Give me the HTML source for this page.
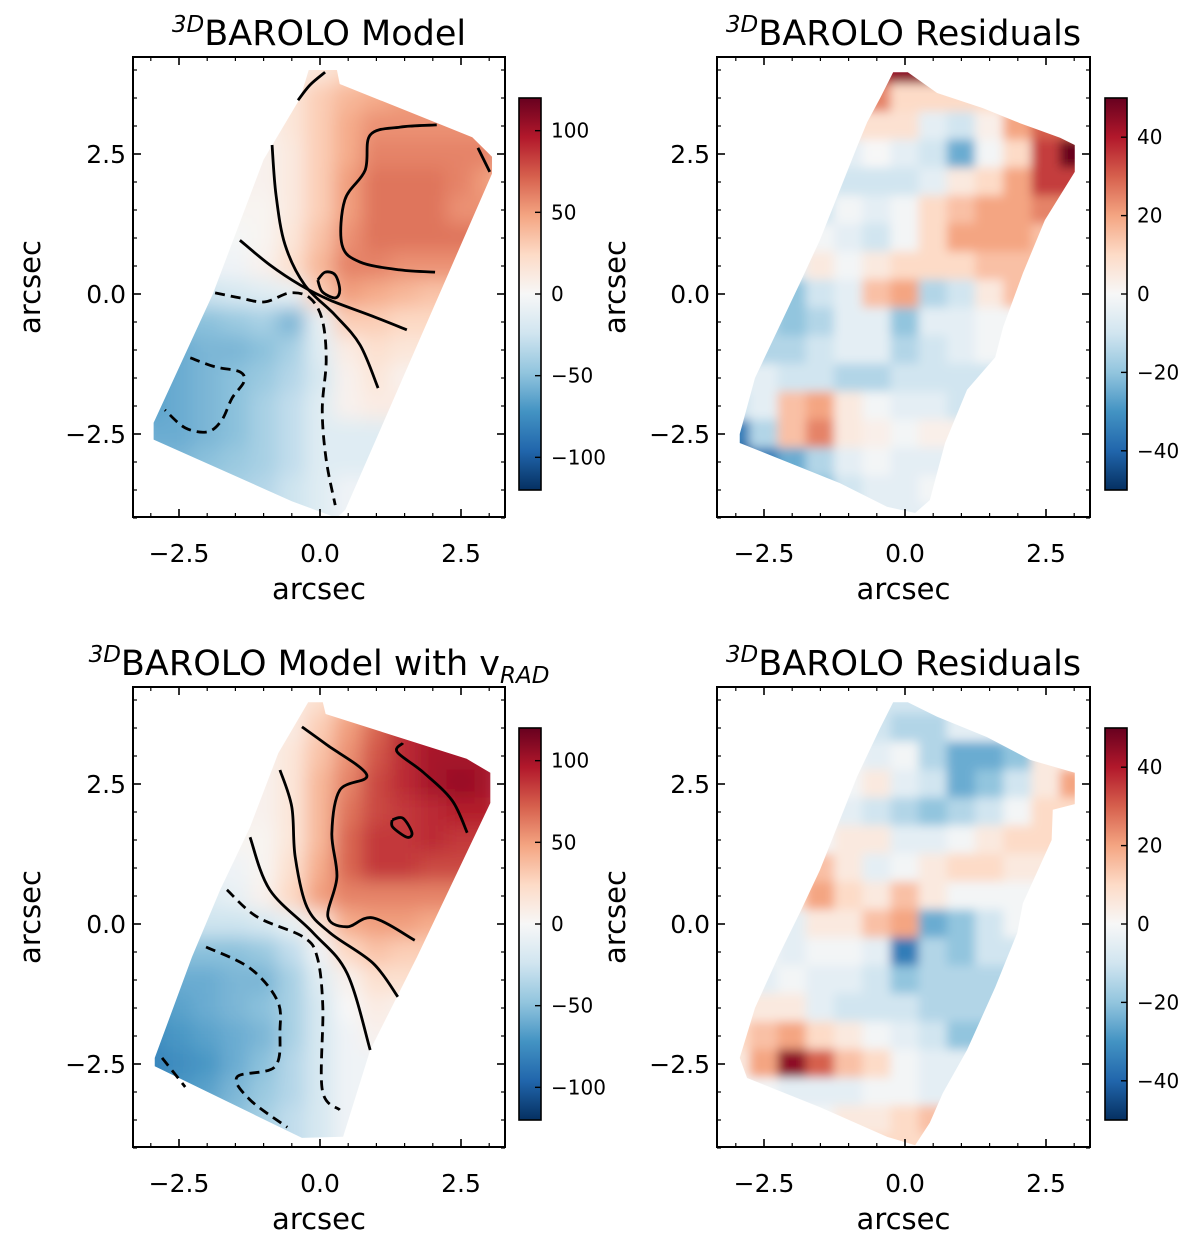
<!DOCTYPE html>
<html><head><meta charset="utf-8"><style>
html,body{margin:0;padding:0;background:#fff;}
svg{display:block;font-family:"DejaVu Sans","Liberation Sans",sans-serif;}
</style></head><body>
<svg id="fig" width="1200" height="1248" viewBox="0 0 1200 1248" xmlns="http://www.w3.org/2000/svg"></svg>
<script>
// ===== data =====
const xCenters = [-3,-2.5,-2,-1.5,-1,-0.5,0,0.5,1,1.5,2,2.5,3];
const yCenters = [4,3.5,3,2.5,2,1.5,1,0.5,0,-0.5,-1,-1.5,-2,-2.5,-3,-3.5,-4];
const model1 = [
[0,0,0,0,0,5,15,25,0,0,0,0,0],
[0,0,0,0,0,15,30,40,45,50,0,0,0],
[0,0,0,0,5,15,30,45,55,55,55,55,0],
[0,0,0,0,5,12,30,45,60,60,60,60,60],
[0,0,0,0,5,12,30,50,65,65,65,60,50],
[0,0,0,0,3,12,30,50,65,65,65,55,0],
[0,0,0,-2,3,15,35,55,65,65,65,0,0],
[0,0,-5,-5,5,20,40,60,60,55,55,0,0],
[0,-20,-25,-20,-15,-10,30,50,45,40,35,0,0],
[0,-50,-50,-45,-40,-55,-10,30,30,25,0,0,0],
[-55,-60,-55,-55,-50,-40,-15,10,20,15,0,0,0],
[-65,-60,-55,-50,-45,-35,-20,5,15,5,0,0,0],
[-65,-60,-55,-50,-40,-30,-15,5,10,0,0,0,0],
[-60,-60,-55,-50,-40,-30,-15,0,0,0,0,0,0],
[-55,-55,-50,-45,-40,-30,-15,0,0,0,0,0,0],
[0,0,-40,-40,-35,-25,-15,-5,0,0,0,0,0],
[0,0,0,0,-30,-25,-15,-5,0,0,0,0,0]];
const resid1 = [
[0,0,0,0,0,40,45,0,0,0,0,0,0],
[0,0,0,0,0,25,10,10,10,0,0,0,0],
[0,0,0,0,0,0,8,-5,-10,3,20,30,30],
[0,0,0,0,-5,0,-5,-10,-25,-1,10,35,50],
[0,0,0,-5,-10,-10,-10,-5,5,10,20,35,0],
[0,0,0,-10,-1,-5,-1,10,15,20,20,25,0],
[0,0,-5,-1,-5,-10,-1,10,20,20,20,15,0],
[0,0,-5,5,-1,5,10,10,10,15,15,0,0],
[0,0,-20,-10,-5,15,20,-15,-10,5,15,0,0],
[0,-15,-20,-15,-5,-5,-20,-5,-5,-1,0,0,0],
[0,-15,-15,-10,-5,-5,-15,-10,-5,-1,0,0,0],
[0,-5,-10,-10,-15,-15,-10,-10,-10,0,0,0,0],
[-10,-5,15,20,5,-1,-5,-5,-10,0,0,0,0],
[-35,-15,15,25,5,3,-1,3,0,0,0,0,0],
[-45,-35,-25,-15,-5,-1,-5,-5,0,0,0,0,0],
[0,0,0,-20,-10,-5,-5,-1,0,0,0,0,0],
[0,0,0,0,0,-5,-5,0,0,0,0,0,0]];
const model3 = [
[0,0,0,0,0,10,20,35,0,0,0,0,0],
[0,0,0,0,0,10,30,50,70,90,95,0,0],
[0,0,0,0,5,15,35,55,75,90,100,100,0],
[0,0,0,0,5,15,40,60,80,90,100,105,100],
[0,0,0,0,5,15,40,65,80,85,90,95,95],
[0,0,0,0,3,15,40,70,85,85,90,85,0],
[0,0,0,-5,3,20,45,70,85,85,80,0,0],
[0,0,-15,-10,5,25,50,60,60,60,60,0,0],
[0,-25,-25,-25,-20,-10,15,45,50,50,45,0,0],
[0,-50,-50,-50,-45,-30,-5,25,35,30,0,0,0],
[-60,-60,-60,-55,-55,-40,-15,5,20,20,0,0,0],
[-70,-65,-60,-55,-50,-40,-20,0,10,5,0,0,0],
[-75,-70,-65,-60,-55,-40,-20,-5,5,0,0,0,0],
[-80,-75,-70,-60,-50,-35,-20,-5,0,0,0,0,0],
[-75,-70,-65,-55,-45,-35,-20,-5,0,0,0,0,0],
[0,0,-55,-50,-40,-30,-20,-5,0,0,0,0,0],
[0,0,0,0,-40,-30,-20,-5,0,0,0,0,0]];
const resid2 = [
[0,0,0,0,0,-10,-10,0,0,0,0,0,0],
[0,0,0,0,0,-10,-15,-15,-5,0,0,0,0],
[0,0,0,0,-1,-5,-1,-15,-25,-25,-20,5,0],
[0,0,0,0,-1,5,-5,-10,-25,-20,-10,5,20],
[0,0,0,-1,-5,-10,-15,-20,-15,-10,-1,10,0],
[0,0,0,-1,5,5,-5,-5,-1,5,10,10,0],
[0,0,10,15,5,-5,-1,5,10,10,5,5,0],
[0,0,10,20,10,5,15,5,-1,-1,-1,0,0],
[0,0,-5,5,5,15,20,-25,-20,-10,-1,0,0],
[0,-1,-5,-1,-1,-5,-35,-15,-20,-10,0,0,0],
[0,-5,-1,-5,-5,-10,-20,-15,-15,-15,0,0,0],
[5,5,5,-5,-10,-10,-10,-15,-15,0,0,0,0],
[10,15,20,10,5,-1,-5,-10,-20,0,0,0,0],
[5,20,45,30,15,10,-1,-5,0,0,0,0,0],
[-1,-1,-5,-5,-5,-1,-1,-5,0,0,0,0,0],
[0,0,0,-1,5,5,10,15,0,0,0,0,0],
[0,0,0,0,0,10,10,0,0,0,0,0,0]];
const xTickLabels = ["\u22122.5","0.0","2.5"];
const xTickValues = [-2.5,0,2.5];
const yTickValues = [-2.5,0,2.5];
const cbModelTicks = [-100,-50,0,50,100];
const cbResidTicks = [-40,-20,0,20,40];
// contour polylines (data coords)
const p1Solid = [
 [[-0.39,3.46],[-0.18,3.73],[0.09,3.96]],
 [[-0.85,2.66],[-0.78,1.77],[-0.62,0.88],[-0.27,0.16],[0.27,-0.38],[0.71,-0.91],[1.03,-1.68]],
 [[-1.42,0.96],[-0.89,0.52],[-0.35,0.16],[0.18,-0.11],[0.89,-0.38],[1.54,-0.64]],
 [[2.04,0.39],[1.42,0.43],[0.71,0.57],[0.39,0.88],[0.44,1.68],[0.80,2.21],[0.89,2.84],[1.42,2.98],[2.07,3.02]],
 [[2.80,2.61],[3.01,2.18]],
 [[-0.04,0.25],[0.09,0.39],[0.27,0.34],[0.35,0.07],[0.27,-0.07],[0.04,0.04],[-0.04,0.25]]];
const p1Dashed = [
 [[-1.86,0.02],[-1.42,-0.07],[-0.98,-0.14],[-0.53,0.02],[-0.18,-0.07],[0.04,-0.46],[0.11,-1.18],[0.04,-2.07],[0.11,-2.96],[0.27,-3.77]],
 [[-2.3,-1.14],[-1.86,-1.3],[-1.42,-1.39],[-1.35,-1.57],[-1.56,-1.86],[-1.74,-2.25],[-1.99,-2.46],[-2.39,-2.39],[-2.75,-2.07]]];
const p3Solid = [
 [[-0.32,3.52],[0.12,3.20],[0.83,2.66],[0.35,2.39],[0.21,1.62],[0.30,0.84],[0.14,0.13],[0.48,-0.05],[0.94,0.11],[1.68,-0.29]],
 [[-0.71,2.75],[-0.50,2.09],[-0.44,1.20],[-0.23,0.30],[0.18,-0.16],[0.94,-0.70],[1.38,-1.30]],
 [[-1.24,1.55],[-0.89,0.61],[-0.12,-0.16],[0.48,-0.88],[0.89,-2.25]],
 [[1.47,3.23],[1.37,3.07],[1.83,2.71],[2.34,2.21],[2.61,1.63]],
 [[1.28,1.86],[1.47,1.89],[1.63,1.63],[1.54,1.55],[1.29,1.73],[1.28,1.86]]];
const p3Dashed = [
 [[-1.65,0.61],[-1.12,0.13],[-0.30,-0.23],[-0.05,-0.59],[0.05,-1.48],[0.04,-2.96],[0.35,-3.32]],
 [[-2.02,-0.41],[-1.24,-0.79],[-0.76,-1.36],[-0.71,-1.89],[-0.80,-2.55],[-1.47,-2.73],[-1.24,-3.14],[-0.58,-3.63]],
 [[-2.80,-2.39],[-2.39,-2.91]]];
// masks (data coords)
const mask1 = [[-0.2,4.0],[0.3,4.0],[0.35,3.75],[2.7,2.8],[3.05,2.45],[3.05,2.15],[0.45,-3.85],[0.3,-4.0],[-0.5,-3.7],[-2.95,-2.6],[-2.95,-2.3],[-1.9,0.0],[-1.0,2.4],[-0.35,3.5]];
const mask2 = [[-0.21,3.96],[0.05,3.96],[0.57,3.59],[1.38,3.32],[2.04,3.05],[2.75,2.79],[3.01,2.66],[3.01,2.18],[2.48,1.32],[2.09,0.37],[1.74,-0.59],[1.6,-1.13],[1.1,-1.71],[0.71,-2.66],[0.44,-3.68],[0.18,-3.91],[-0.32,-3.8],[-1.15,-3.38],[-2.93,-2.66],[-2.93,-2.5],[-2.66,-1.5],[-1.86,0.2],[-1.51,0.96],[-0.85,2.63],[-0.67,3.07],[-0.44,3.5]];
const mask3 = [[-0.21,3.96],[0.05,3.96],[0.1,3.75],[2.6,2.95],[3.02,2.7],[3.02,2.16],[1.72,-0.59],[0.89,-2.25],[0.41,-3.8],[-0.32,-3.82],[-2.93,-2.54],[-2.93,-2.39],[-2.27,-0.59],[-1.77,0.61],[-1.24,1.73],[-0.74,3.05]];
const mask4 = [[-0.21,3.96],[0.05,3.96],[0.57,3.7],[1.45,3.34],[2.22,2.93],[3.01,2.7],[3.01,2.14],[2.62,2.04],[2.6,1.5],[2.09,0.37],[1.99,-0.16],[1.6,-1.13],[1.1,-2.25],[0.67,-3.02],[0.44,-3.55],[0.18,-3.95],[-0.32,-3.8],[-1.51,-3.27],[-2.8,-2.75],[-2.93,-2.39],[-2.66,-1.5],[-2.25,-0.59],[-1.86,0.21],[-1.51,0.96],[-0.85,2.63],[-0.44,3.5]];

// ===== helpers =====
const NS="http://www.w3.org/2000/svg";
const svg=document.getElementById('fig');
function mk(tag,attrs,parent){const e=document.createElementNS(NS,tag);for(const k in attrs)e.setAttribute(k,attrs[k]);(parent||svg).appendChild(e);return e;}
const stops=["#053061","#2166ac","#4393c3","#92c5de","#d1e5f0","#f7f7f7","#fddbc7","#f4a582","#d6604d","#b2182b","#67001f"];
function hex(h){return [parseInt(h.substr(1,2),16),parseInt(h.substr(3,2),16),parseInt(h.substr(5,2),16)];}
function cmap(t){t=Math.max(0,Math.min(1,t));const f=t*10;const i=Math.min(9,Math.floor(f));const r=f-i;const a=hex(stops[i]),b=hex(stops[i+1]);
 return 'rgb('+a.map((v,k)=>Math.round(v+(b[k]-v)*r)).join(',')+')';}
// render-only padding: extend edge values outward so blur doesn't fade mask edges
function padGrid(g){
 const out=g.map(r=>r.slice());
 out.forEach(r=>{let f=r.findIndex(v=>v!==0);if(f<0)return;let l=r.length-1;while(r[l]===0)l--;
  for(let i=0;i<f;i++)r[i]=r[f];for(let i=l+1;i<r.length;i++)r[i]=r[l];});
 return out;}
function smoothPath(pts){
 let d='M'+pts[0][0]+','+pts[0][1];
 for(let i=0;i<pts.length-1;i++){
  const p0=pts[Math.max(0,i-1)],p1=pts[i],p2=pts[i+1],p3=pts[Math.min(pts.length-1,i+2)];
  const c1=[p1[0]+(p2[0]-p0[0])/6,p1[1]+(p2[1]-p0[1])/6],c2=[p2[0]-(p3[0]-p1[0])/6,p2[1]-(p3[1]-p1[1])/6];
  d+=' C'+c1[0]+','+c1[1]+' '+c2[0]+','+c2[1]+' '+p2[0]+','+p2[1];
 }
 return d;}
const defs=mk('defs',{});
const blurF=mk('filter',{id:'blur',x:'-10%',y:'-10%',width:'120%',height:'120%'},defs);
mk('feGaussianBlur',{stdDeviation:'9'},blurF);
const blurR=mk('filter',{id:'blurR',x:'-10%',y:'-10%',width:'120%',height:'120%'},defs);
mk('feGaussianBlur',{stdDeviation:'5'},blurR);

const panels=[
 {id:'model',L:133,T:57,R:505,B:517,x0:320,y0:294,grid:model1,vmax:120,mask:mask1,cbL:519,cbT:98,cbB:490,ticks:cbModelTicks,solid:p1Solid,dashed:p1Dashed,filt:'blur',ylabX:30,title:'BAROLO Model',sub:null},
 {id:'residuals',L:717,T:57,R:1090,B:517,x0:905,y0:294,grid:resid1,vmax:50,mask:mask2,cbL:1105,cbT:98,cbB:490,ticks:cbResidTicks,solid:[],dashed:[],filt:'blurR',ylabX:615,title:'BAROLO Residuals',sub:null},
 {id:'model-vrad',L:133,T:687,R:505,B:1147,x0:320,y0:924,grid:model3,vmax:120,mask:mask3,cbL:519,cbT:728,cbB:1120,ticks:cbModelTicks,solid:p3Solid,dashed:p3Dashed,filt:'blur',ylabX:30,title:'BAROLO Model with v',sub:'RAD'},
 {id:'residuals-vrad',L:717,T:687,R:1090,B:1147,x0:905,y0:924,grid:resid2,vmax:50,mask:mask4,cbL:1105,cbT:728,cbB:1120,ticks:cbResidTicks,solid:[],dashed:[],filt:'blurR',ylabX:615,title:'BAROLO Residuals',sub:null}
];
const SX=56.4, SY=56;

panels.forEach((p,pi)=>{
 const X=v=>p.x0+v*SX, Y=v=>p.y0-v*SY;
 const g=mk('g',{});
 
 
 const cp=mk('clipPath',{id:'clip'+pi},defs);
 mk('polygon',{points:p.mask.map(q=>X(q[0])+','+Y(q[1])).join(' ')},cp);
 const hm=mk('g',{'clip-path':'url(#clip'+pi+')'},g);
 
 
 const inner=mk('g',{filter:'url(#'+p.filt+')'},hm);
 const grid=padGrid(p.grid);
 grid.forEach((row,ri)=>{row.forEach((v,ci)=>{
  const cx=xCenters[ci], cy=yCenters[ri];
  const r=mk('rect',{x:X(cx-0.25)-0.5,y:Y(cy+0.25)-0.5,width:0.5*SX+1,height:0.5*SY+1,fill:cmap((v+p.vmax)/(2*p.vmax))},inner);
  
  
 });});
 p.solid.forEach(line=>{
  const e=mk('path',{d:smoothPath(line.map(q=>[X(q[0]),Y(q[1])])),fill:'none',stroke:'#000','stroke-width':2.8,'stroke-linejoin':'round'},g);
  
  
 });
 p.dashed.forEach(line=>{
  const e=mk('path',{d:smoothPath(line.map(q=>[X(q[0]),Y(q[1])])),fill:'none',stroke:'#000','stroke-width':2.8,'stroke-dasharray':'10,6'},g);
  
  
 });
 const fr=mk('rect',{x:p.L,y:p.T,width:p.R-p.L,height:p.B-p.T,fill:'none',stroke:'#000','stroke-width':2},g);
 
 
 xTickValues.forEach((v,i)=>{
  mk('line',{x1:X(v),x2:X(v),y1:p.B,y2:p.B-8,stroke:'#000','stroke-width':1.6},g);
  mk('line',{x1:X(v),x2:X(v),y1:p.T,y2:p.T+8,stroke:'#000','stroke-width':1.6},g);
  const t=mk('text',{x:X(v),y:p.B+45,'text-anchor':'middle','font-size':25},g);t.textContent=xTickLabels[i];
  
  
 });
 for(let v=-3;v<=3.01;v+=0.5){
  if(Math.abs(v%2.5)<0.01) continue;
  mk('line',{x1:X(v),x2:X(v),y1:p.B,y2:p.B-4,stroke:'#000','stroke-width':1.2},g);
  mk('line',{x1:X(v),x2:X(v),y1:p.T,y2:p.T+4,stroke:'#000','stroke-width':1.2},g);
 }
 yTickValues.forEach((v,i)=>{
  mk('line',{x1:p.L,x2:p.L+8,y1:Y(v),y2:Y(v),stroke:'#000','stroke-width':1.6},g);
  mk('line',{x1:p.R,x2:p.R-8,y1:Y(v),y2:Y(v),stroke:'#000','stroke-width':1.6},g);
  const t=mk('text',{x:p.L-7,y:Y(v)+9,'text-anchor':'end','font-size':25},g);t.textContent=xTickLabels[i];
  
  
 });
 for(let v=-4;v<=4.01;v+=0.5){
  if(Math.abs(v%2.5)<0.01) continue;
  mk('line',{x1:p.L,x2:p.L+4,y1:Y(v),y2:Y(v),stroke:'#000','stroke-width':1.2},g);
  mk('line',{x1:p.R,x2:p.R-4,y1:Y(v),y2:Y(v),stroke:'#000','stroke-width':1.2},g);
 }
 const xl=mk('text',{x:(p.L+p.R)/2,y:p.B+82,'text-anchor':'middle','font-size':29},g);xl.textContent='arcsec';
 
 
 const yc=(p.T+p.B)/2;
 const yl=mk('text',{x:p.ylabX+10,y:yc,'text-anchor':'middle','font-size':29,transform:'rotate(-90 '+(p.ylabX+10)+' '+yc+')'},g);yl.textContent='arcsec';
 
 
 const tt=mk('text',{x:(p.L+p.R)/2,y:p.T-12,'text-anchor':'middle','font-size':35},g);
 
 
 const s1=mk('tspan',{'font-size':23,'font-style':'italic',dy:'-13'},tt);s1.textContent='3D';
 const s2=mk('tspan',{dy:'13'},tt);s2.textContent=p.title;
 if(p.sub){const s3=mk('tspan',{'font-size':23,'font-style':'italic',dy:'8'},tt);s3.textContent=p.sub;}
 const gid='cbg'+pi;
 const lg=mk('linearGradient',{id:gid,x1:0,y1:1,x2:0,y2:0},defs);
 stops.forEach((c,i)=>mk('stop',{offset:(i/10),'stop-color':c},lg));
 const cb=mk('rect',{x:p.cbL,y:p.cbT,width:22,height:p.cbB-p.cbT,fill:'url(#'+gid+')',stroke:'#000','stroke-width':1.6},g);
 
 
 const CY=v=>p.cbB-(v+p.vmax)/(2*p.vmax)*(p.cbB-p.cbT);
 p.ticks.forEach(v=>{
  mk('line',{x1:p.cbL+22,x2:p.cbL+16,y1:CY(v),y2:CY(v),stroke:'#000','stroke-width':1.4},g);
  const t=mk('text',{x:p.cbL+32,y:CY(v)+7,'font-size':20},g);t.textContent=(v<0?'\u2212'+(-v):String(v));
  
  
 });
});
</script>
</body></html>
